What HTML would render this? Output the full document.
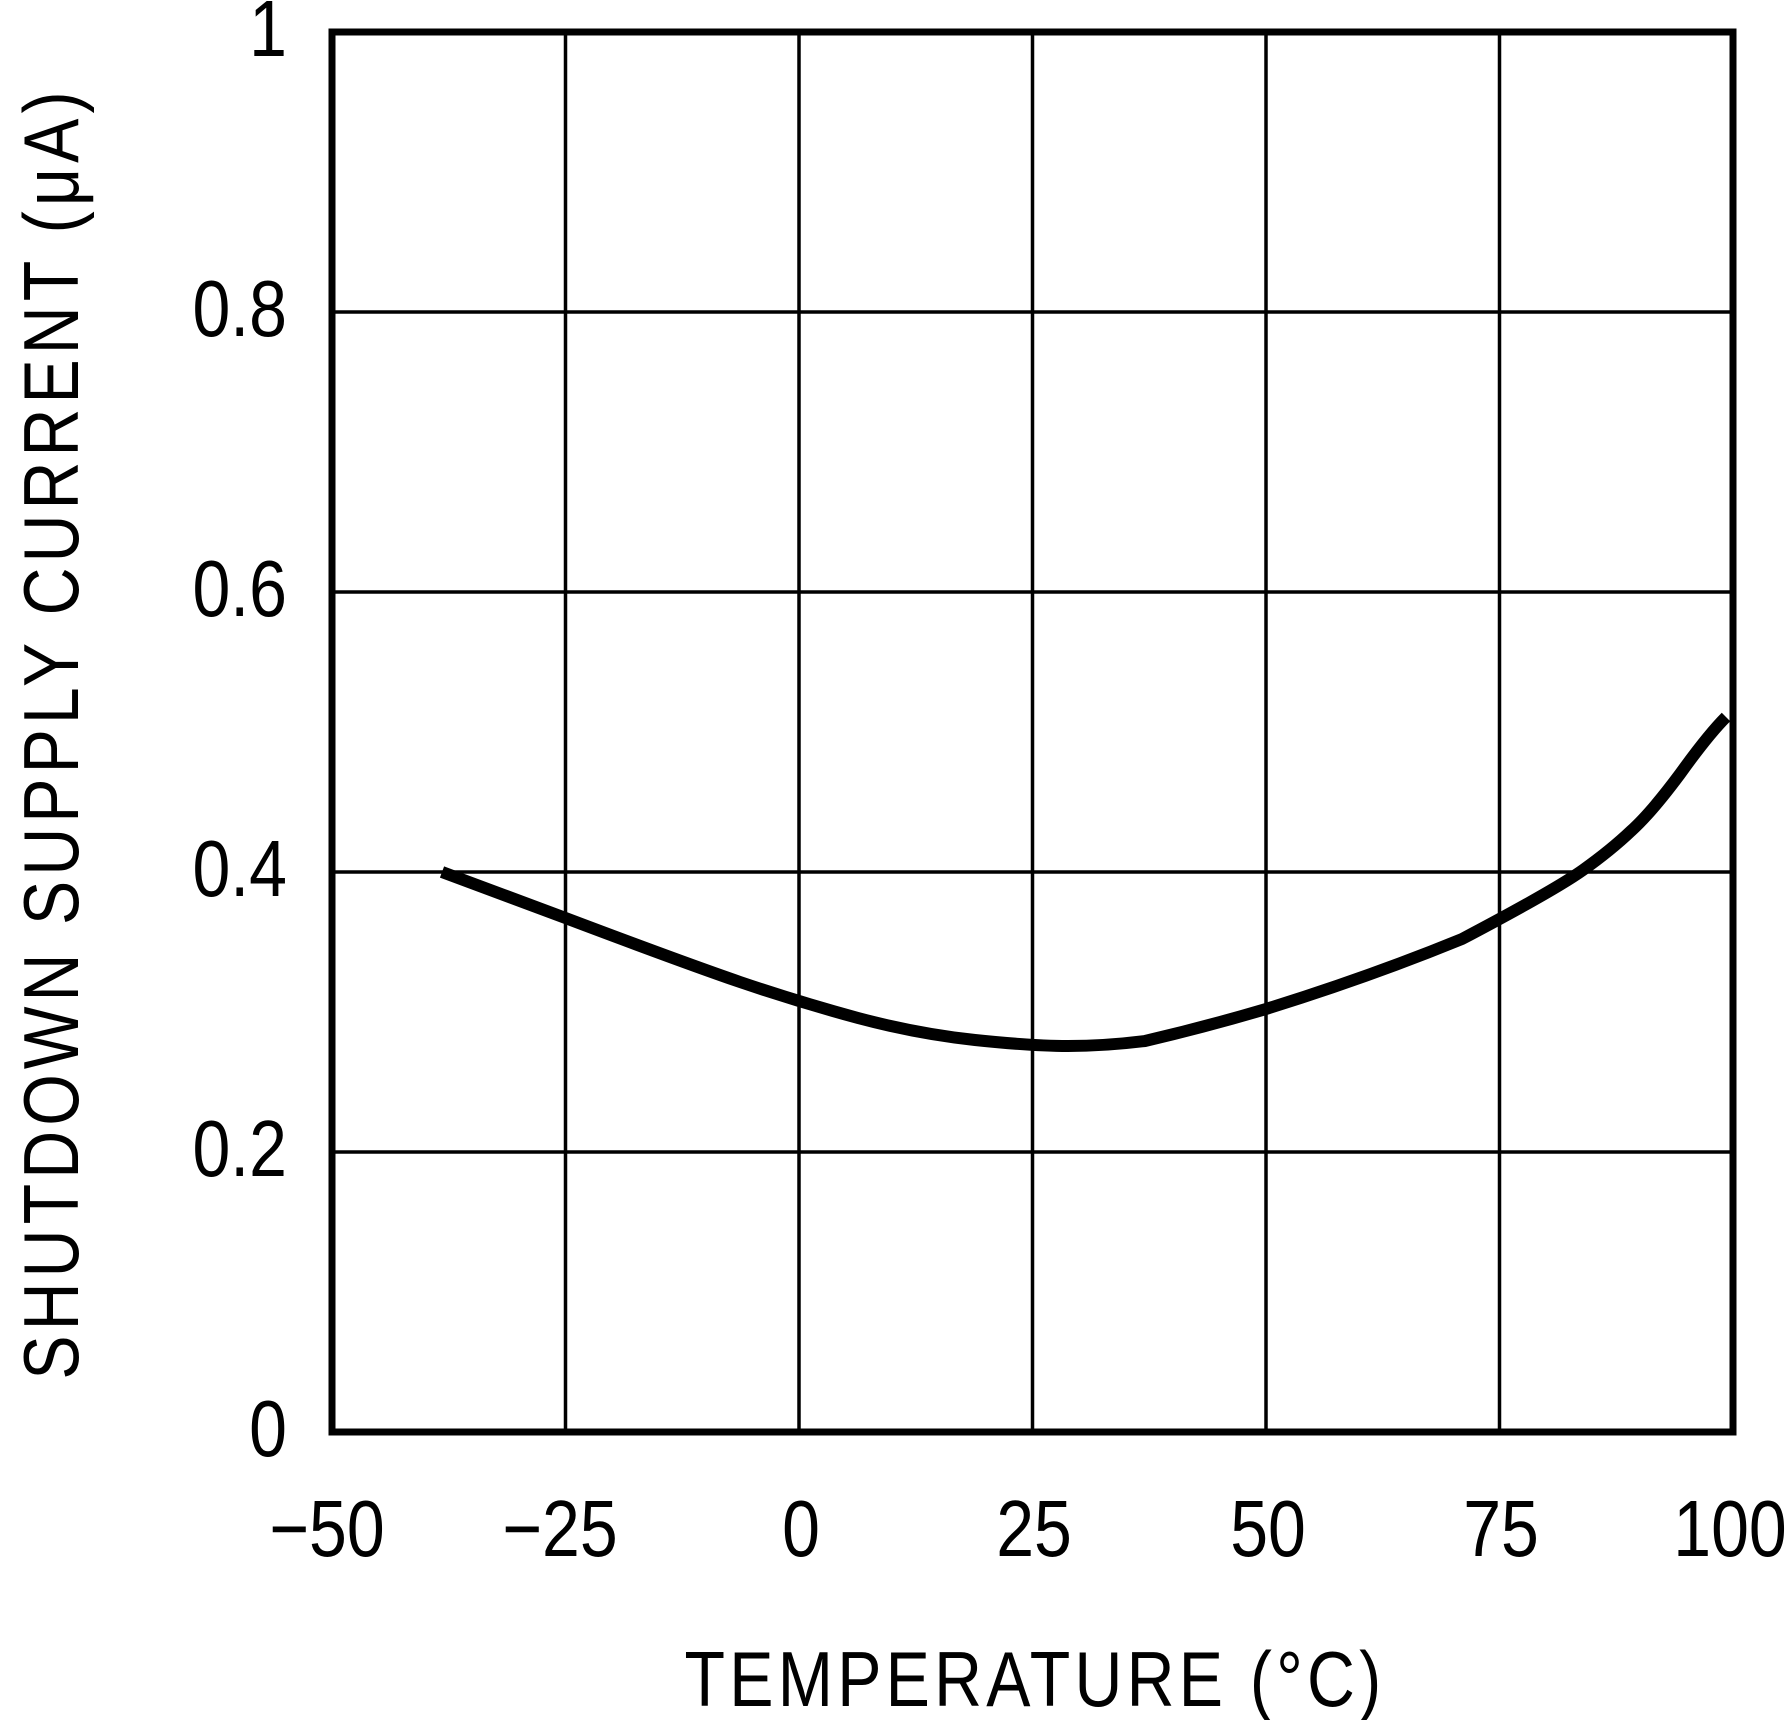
<!DOCTYPE html>
<html><head><style>html,body{margin:0;padding:0;background:#fff;}</style></head>
<body>
<svg width="1788" height="1720" viewBox="0 0 1788 1720" xmlns="http://www.w3.org/2000/svg" font-family="Liberation Sans, sans-serif">
<g stroke="#000" stroke-width="3.5">
<line x1="565.5" y1="32" x2="565.5" y2="1432"/>
<line x1="799" y1="32" x2="799" y2="1432"/>
<line x1="1032.5" y1="32" x2="1032.5" y2="1432"/>
<line x1="1266" y1="32" x2="1266" y2="1432"/>
<line x1="1499.5" y1="32" x2="1499.5" y2="1432"/>
<line x1="332" y1="312" x2="1733" y2="312"/>
<line x1="332" y1="592" x2="1733" y2="592"/>
<line x1="332" y1="872" x2="1733" y2="872"/>
<line x1="332" y1="1152" x2="1733" y2="1152"/>
</g>
<rect x="332" y="32" width="1401" height="1400" fill="none" stroke="#000" stroke-width="7"/>
<path fill="none" stroke="#000" stroke-width="12" stroke-linejoin="round"
d="M442,872 L565.5,918 Q682,962 740,982 Q799,1002 858,1018 Q918,1034 975,1040 Q1032,1046 1068,1046 Q1105,1046 1145,1041 Q1205,1027 1266,1009 Q1369,977 1462,939 Q1555,890 1583,870 Q1611,850 1631,831 Q1651,813 1680,774 Q1708,735 1726,717"/>
<g font-size="80" fill="#000" text-anchor="end">
<text transform="translate(287,56) scale(0.85,1)">1</text>
<text transform="translate(287,336) scale(0.85,1)">0.8</text>
<text transform="translate(287,616) scale(0.85,1)">0.6</text>
<text transform="translate(287,896) scale(0.85,1)">0.4</text>
<text transform="translate(287,1176) scale(0.85,1)">0.2</text>
<text transform="translate(287,1456) scale(0.85,1)">0</text>
</g>
<g font-size="80" fill="#000" text-anchor="middle">
<text transform="translate(327,1556) scale(0.85,1)">−50</text>
<text transform="translate(560,1556) scale(0.85,1)">−25</text>
<text transform="translate(801,1556) scale(0.85,1)">0</text>
<text transform="translate(1034,1556) scale(0.85,1)">25</text>
<text transform="translate(1268,1556) scale(0.85,1)">50</text>
<text transform="translate(1501,1556) scale(0.85,1)">75</text>
<text transform="translate(1730,1556) scale(0.85,1)">100</text>
<text transform="translate(1035,1706) scale(0.85,1)" font-size="78" letter-spacing="5">TEMPERATURE (°C)</text>
<text transform="translate(78,733) rotate(-90) scale(0.85,1)" font-size="78" letter-spacing="6">SHUTDOWN SUPPLY CURRENT (μA)</text>
</g>
</svg>
</body></html>
